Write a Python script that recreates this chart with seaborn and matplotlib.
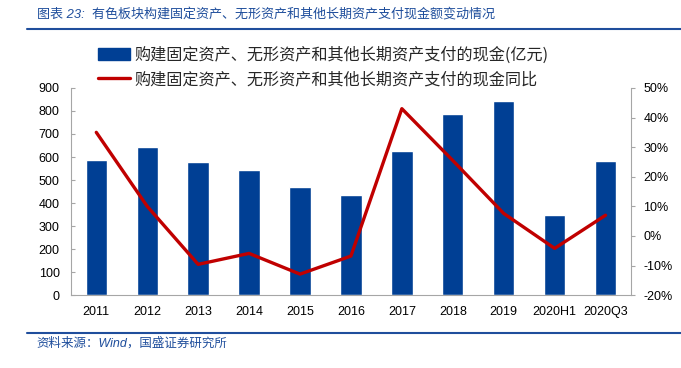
import numpy as np
import pandas as pd
import matplotlib
matplotlib.use("Agg")
import matplotlib.pyplot as plt
import seaborn as sns
from matplotlib.ticker import FixedLocator, PercentFormatter
from matplotlib.lines import Line2D
from matplotlib.patches import Patch

# === DATA ===
periods = ["2011", "2012", "2013", "2014", "2015", "2016",
           "2017", "2018", "2019", "2020H1", "2020Q3"]
capex = [585, 645, 580, 545, 470, 437, 625, 785, 843, 350, 583]          # 亿元
capex_yoy = [35.0, 10.0, -9.6, -5.9, -12.9, -6.8, 43.0, 25.5, 7.6, -4.2, 7.0]  # %

bar_label = "购建固定资产、无形资产和其他长期资产支付的现金(亿元)"
line_label = "购建固定资产、无形资产和其他长期资产支付的现金同比"
title = "图表 23:  有色板块构建固定资产、无形资产和其他长期资产支付现金额变动情况"
source = "资料来源：Wind，国盛证券研究所"

BAR_C = "#003f94"
LINE_C = "#c00000"
HEAD_C = "#1f4e9c"
GRID_C = "#a6a6a6"

sns.set_style("white")
plt.rcParams['font.family'] = ['Liberation Sans', 'Noto Sans CJK SC', 'DejaVu Sans']
plt.rcParams['axes.unicode_minus'] = False

df = pd.DataFrame({"period": periods, "capex": capex, "yoy": capex_yoy,
                   "pos": np.arange(len(periods))})

fig = plt.figure(figsize=(6.81, 3.68), dpi=100)
ax = fig.add_axes([0.104, 0.198, 0.8226, 0.563])

sns.barplot(data=df, x="period", y="capex", color=BAR_C, width=0.42,
            saturation=1, ax=ax)
ax.set_ylim(0, 900)
ax.set_yticks(range(0, 901, 100))
ax.set_xlim(-0.5, len(periods) - 0.5)
ax.set_xlabel("")
ax.set_ylabel("")

ax2 = ax.twinx()
sns.lineplot(data=df, x="pos", y="yoy", color=LINE_C, linewidth=2.4,
             sort=False, ax=ax2)
ax2.set_ylim(-20, 50)
ax2.set_yticks(range(-20, 51, 10))
ax2.yaxis.set_major_formatter(PercentFormatter(decimals=0))
ax2.set_ylabel("")
ax2.set_xlim(-0.5, len(periods) - 0.5)

for a in (ax, ax2):
    for s in a.spines.values():
        s.set_visible(False)
    a.tick_params(labelsize=9, colors="black", length=0)

ax.spines["left"].set_visible(True)
ax.spines["left"].set_color(GRID_C)
ax.spines["bottom"].set_visible(True)
ax.spines["bottom"].set_color(GRID_C)
ax2.spines["right"].set_visible(True)
ax2.spines["right"].set_color(GRID_C)

ax.tick_params(axis="y", direction="in", length=3, color=GRID_C, pad=8)
ax2.tick_params(axis="y", direction="out", length=3, color=GRID_C, pad=6)
ax.tick_params(axis="x", length=0, pad=8)
ax.xaxis.set_minor_locator(FixedLocator(np.arange(0.5, len(periods) - 0.5, 1)))
ax.tick_params(axis="x", which="minor", direction="in", length=3, color=GRID_C)

handles = [Patch(facecolor=BAR_C, edgecolor=BAR_C),
           Line2D([0], [0], color=LINE_C, linewidth=2.4)]
fig.legend(handles, [bar_label, line_label], loc="upper left",
           bbox_to_anchor=(0.122, 0.913), frameon=False,
           handlelength=2.0, handletextpad=0.3, labelspacing=0.45,
           prop={"family": ["Noto Sans CJK SC"], "size": 11.6})

fig.text(0.054, 0.962, title, color=HEAD_C, fontsize=9.4, style="italic",
         va="center", family=["Liberation Sans", "Noto Sans CJK SC"])
fig.add_artist(Line2D([0.04, 1.0], [0.922, 0.922], color=HEAD_C, linewidth=1.5))
fig.add_artist(Line2D([0.04, 1.0], [0.095, 0.095], color=HEAD_C, linewidth=1.5))
fig.text(0.054, 0.068, source, color=HEAD_C, fontsize=9, style="italic",
         va="center", family=["Liberation Sans", "Noto Sans CJK SC"])

fig.savefig("out.png", dpi=100)
